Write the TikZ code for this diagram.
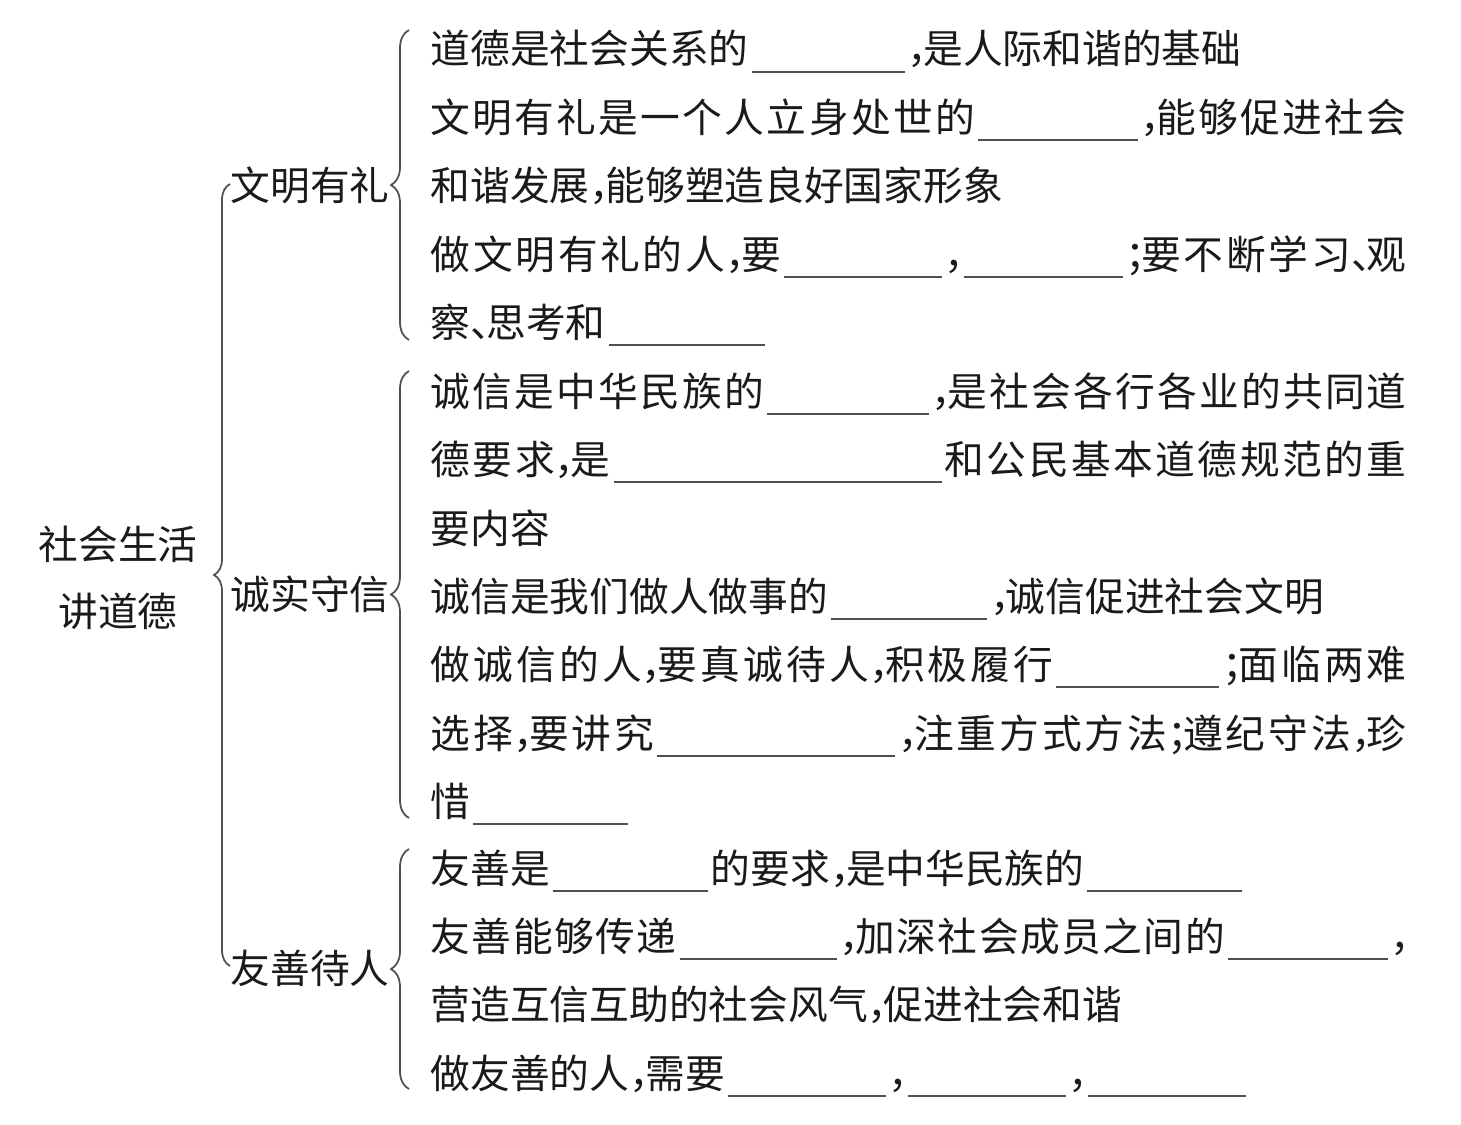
\documentclass[tikz,border=0pt]{standalone}
\usepackage{fontspec}
\setmainfont{Noto Sans CJK SC}
\usepackage{tikz}
\usetikzlibrary{decorations.pathreplacing}
\definecolor{inkdark}{HTML}{1A1A1A}
\definecolor{bracegray}{HTML}{505050}
\newdimen\px \px=0.01cm
% fill-in blank and half-width punctuation
\newcommand\blank[1]{\hspace{3\px}{\color{bracegray}\rule[-9\px]{#1\px}{0.45pt}}\hspace{3\px}}
\newcommand\dou{\makebox[0.4em][l]{，}}
\newcommand\fen{\makebox[0.4em][l]{；}}
\newcommand\dun{\makebox[0.4em][l]{、}}
% justified lines: spread the characters over the full width
\def\spread#1{\spreadone#1\relax}
\def\spreadone#1{#1\spreadrest}
\def\spreadrest#1{\ifx\relax#1\else\hfil#1\expandafter\spreadrest\fi}
\newcommand\jline[1]{\hbox to 976\px{#1}}
\tikzset{
  txt/.style={anchor=base west, inner sep=0pt, text=inkdark},
  topic/.style={inner sep=0pt, text=inkdark},
  brc/.style={decorate, decoration={brace, amplitude=#1}, draw=bracegray, line width=0.5pt},
  brc/.default=0.18cm,
}

\begin{document}
\begin{tikzpicture}[x=0.01cm, y=-0.01cm, font=\fontsize{11.3pt}{19pt}\selectfont]
  \useasboundingbox (0,0) rectangle (1461,1124);
  \node[topic, align=center] (root) at (118,578) {社会生活\\讲道德};
  \node[topic] (wm) at (310,185) {文明有礼};
  \node[topic] (cx) at (310,594) {诚实守信};
  \node[topic] (ys) at (310,968) {友善待人};
  % braces
  \coordinate (root-bot) at (230,966);
  \coordinate (root-top) at (230,184);
  \draw[brc=0.16cm] (root-bot) -- (root-top);
  \foreach \g/\t/\b in {wm/30/340, cx/371/818, ys/849/1089} {
    \coordinate (\g-top) at (409,\t);
    \coordinate (\g-bot) at (409,\b);
    \draw[brc] (\g-bot) -- (\g-top);
  }
  % 文明有礼
  \foreach \n/\y/\t in {
    a1/64/{道德是社会关系的\blank{153}\dou 是人际和谐的基础},
    a2/132/{\jline{\spread{文明有礼是一个人立身处世的}\blank{160}\dou\spread{能够促进社会}}},
    a3/200/{和谐发展\dou 能够塑造良好国家形象},
    a4/269/{\jline{\spread{做文明有礼的人}\dou 要\blank{158}\dou\blank{159}\fen\spread{要不断学习}\dun 观}},
    a5/337/{察\dun 思考和\blank{156}}}
    \node[txt] (\n) at (430,\y) {\t};
  % 诚实守信
  \foreach \n/\y/\t in {
    b1/406/{\jline{\spread{诚信是中华民族的}\blank{162}\dou\spread{是社会各行各业的共同道}}},
    b2/474/{\jline{\spread{德要求}\dou 是\blank{328}\spread{和公民基本道德规范的重}}},
    b3/543/{要内容},
    b4/611/{诚信是我们做人做事的\blank{156}\dou 诚信促进社会文明},
    b5/679/{\jline{\spread{做诚信的人}\dou\spread{要真诚待人}\dou\spread{积极履行}\blank{163}\fen\spread{面临两难}}},
    b6/748/{\jline{\spread{选择}\dou\spread{要讲究}\blank{238}\dou\spread{注重方式方法}\fen\spread{遵纪守法}\dou 珍}},
    b7/816/{惜\blank{155}}}
    \node[txt] (\n) at (430,\y) {\t};
  % 友善待人
  \foreach \n/\y/\t in {
    c1/883/{友善是\blank{155}的要求\dou 是中华民族的\blank{155}},
    c2/951/{\jline{\spread{友善能够传递}\blank{157}\dou\spread{加深社会成员之间的}\blank{160}\dou}},
    c3/1019/{营造互信互助的社会风气\dou 促进社会和谐},
    c4/1088/{做友善的人\dou 需要\blank{158}\dou\blank{158}\dou\blank{158}}}
    \node[txt] (\n) at (430,\y) {\t};
\end{tikzpicture}
\end{document}
